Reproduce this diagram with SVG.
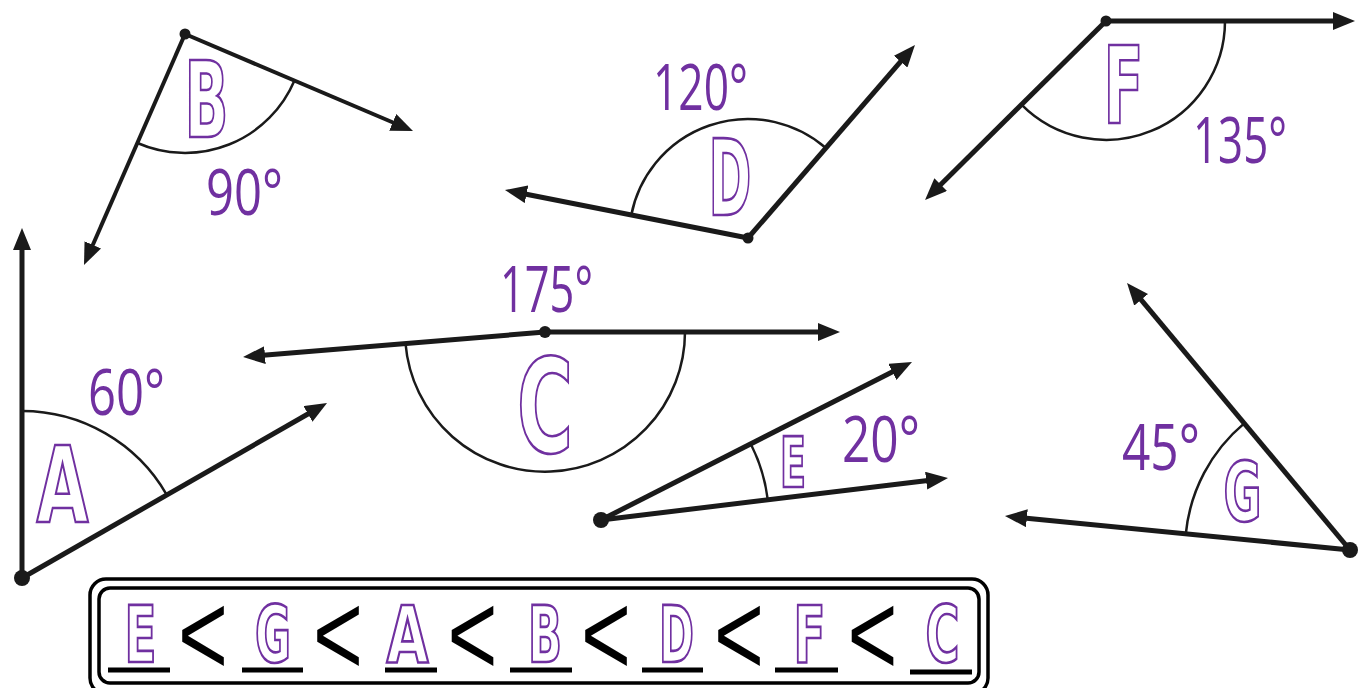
<svg xmlns="http://www.w3.org/2000/svg" width="1365" height="688" viewBox="0 0 1365 688">
<style>
.ray{stroke:#1a1a1a;stroke-width:5;fill:none;marker-end:url(#arr)}
.arc{stroke:#1a1a1a;stroke-width:2.5;fill:none}
.dot{fill:#1a1a1a}
.deg{font-family:"Open Sans","Liberation Sans",sans-serif;font-size:64px;fill:#7030a0;text-anchor:middle}
.let{font-family:"DejaVu Sans Condensed","DejaVu Sans",sans-serif;font-weight:bold;fill:#fff;stroke:#7030a0;stroke-width:2.7;text-anchor:middle}
.lt{font-family:"Liberation Sans",Arial,sans-serif;font-size:118px;fill:#000;text-anchor:middle}
.ul{stroke:#000;stroke-width:5}
</style>
<defs>
<marker id="arr" viewBox="0 0 22 18" refX="8" refY="9" markerWidth="22" markerHeight="18" markerUnits="userSpaceOnUse" orient="auto">
<path d="M0,0 L22,9 L0,18 z" fill="#1a1a1a"/>
</marker>
</defs>
<rect width="1365" height="688" fill="#fff"/>

<g id="angle-A">
<line class="ray" x1="22" y1="578" x2="22" y2="242"/>
<line class="ray" x1="22" y1="578" x2="314.9" y2="410"/>
<path class="arc" d="M22,411 A167,167 0 0 1 166.6,494.5"/>
<circle class="dot" cx="22" cy="578" r="8"/>
<text class="deg" x="126.5" y="415" textLength="77" lengthAdjust="spacingAndGlyphs">60°</text>
<text class="let" x="62.5" y="522" font-size="106" textLength="52" lengthAdjust="spacingAndGlyphs">A</text>
</g>

<g id="angle-B">
<line class="ray" style="stroke-width:4" x1="185" y1="34" x2="400.1" y2="125.5"/>
<line class="ray" style="stroke-width:4" x1="185" y1="34" x2="89.6" y2="252.2"/>
<path class="arc" d="M294.5,80.5 A119,119 0 0 1 137.4,143"/>
<circle class="dot" cx="185" cy="34" r="5.5"/>
<text class="deg" x="244.5" y="215" textLength="77" lengthAdjust="spacingAndGlyphs">90°</text>
<text class="let" x="206.5" y="137" font-size="106" textLength="44" lengthAdjust="spacingAndGlyphs">B</text>
</g>

<g id="angle-D">
<line class="ray" x1="748" y1="238" x2="518.7" y2="192.7"/>
<line class="ray" x1="748" y1="238" x2="905.8" y2="55.6"/>
<path class="arc" d="M631.3,214.9 A119,119 0 0 1 825.9,148"/>
<circle class="dot" cx="748" cy="238" r="5.5"/>
<text class="deg" x="700.5" y="110" textLength="95" lengthAdjust="spacingAndGlyphs">120°</text>
<text class="let" x="730" y="215" font-size="106" textLength="43" lengthAdjust="spacingAndGlyphs">D</text>
</g>

<g id="angle-F">
<line class="ray" x1="1106" y1="21" x2="1341" y2="21"/>
<line class="ray" x1="1106" y1="21" x2="935" y2="190.2"/>
<path class="arc" d="M1225,21 A119,119 0 0 1 1021.5,104.7"/>
<circle class="dot" cx="1106" cy="21" r="5.5"/>
<text class="deg" x="1240" y="163" textLength="94" lengthAdjust="spacingAndGlyphs">135°</text>
<text class="let" x="1123.5" y="123" font-size="107" textLength="40" lengthAdjust="spacingAndGlyphs">F</text>
</g>

<g id="angle-C">
<line class="ray" x1="545" y1="332" x2="826" y2="332"/>
<line class="ray" x1="545" y1="332" x2="257" y2="355.8"/>
<path class="arc" d="M685,332 A140,140 0 0 1 405.5,343.5"/>
<circle class="dot" cx="545" cy="332" r="6"/>
<text class="deg" x="546.5" y="312" textLength="93" lengthAdjust="spacingAndGlyphs">175°</text>
<text class="let" x="545" y="452" font-size="130" textLength="56" lengthAdjust="spacingAndGlyphs">C</text>
</g>

<g id="angle-E">
<line class="ray" x1="601" y1="520" x2="899.5" y2="368.3"/>
<line class="ray" x1="601" y1="520" x2="934.1" y2="479.7"/>
<path class="arc" d="M750.8,444 A168,168 0 0 1 767.8,499.8"/>
<circle class="dot" cx="601" cy="520" r="8"/>
<text class="deg" x="881" y="462" textLength="78" lengthAdjust="spacingAndGlyphs">20°</text>
<text class="let" x="793" y="487" font-size="69" textLength="26" lengthAdjust="spacingAndGlyphs">E</text>
</g>

<g id="angle-G">
<line class="ray" x1="1350" y1="550" x2="1136" y2="293.7"/>
<line class="ray" x1="1350" y1="550" x2="1018.9" y2="517.4"/>
<path class="arc" d="M1244.2,423.4 A165,165 0 0 0 1185.8,533.9"/>
<circle class="dot" cx="1350" cy="550" r="8"/>
<text class="deg" x="1161" y="470" textLength="78" lengthAdjust="spacingAndGlyphs">45°</text>
<text class="let" x="1242.5" y="521" font-size="82" textLength="38" lengthAdjust="spacingAndGlyphs">G</text>
</g>

<g id="order-box">
<rect x="90" y="579" width="898" height="115" rx="16" fill="none" stroke="#000" stroke-width="3.5"/>
<rect x="99" y="588" width="880" height="95" rx="11" fill="none" stroke="#000" stroke-width="3.5"/>
<g class="ul">
<line x1="108" y1="670" x2="170" y2="670"/>
<line x1="242" y1="670" x2="303" y2="670"/>
<line x1="385" y1="670" x2="437" y2="670"/>
<line x1="510" y1="670" x2="572" y2="670"/>
<line x1="642" y1="670" x2="703" y2="670"/>
<line x1="775" y1="670" x2="838" y2="670"/>
<line x1="910" y1="672" x2="972" y2="672"/>
</g>
<text class="let" x="140.5" y="662" font-size="78" textLength="32" lengthAdjust="spacingAndGlyphs">E</text>
<text class="let" x="273" y="662" font-size="78" textLength="36" lengthAdjust="spacingAndGlyphs">G</text>
<text class="let" x="407.5" y="662" font-size="78" textLength="42" lengthAdjust="spacingAndGlyphs">A</text>
<text class="let" x="545" y="662" font-size="78" textLength="34" lengthAdjust="spacingAndGlyphs">B</text>
<text class="let" x="676.5" y="662" font-size="78" textLength="35" lengthAdjust="spacingAndGlyphs">D</text>
<text class="let" x="809.5" y="662" font-size="78" textLength="32" lengthAdjust="spacingAndGlyphs">F</text>
<text class="let" x="942.5" y="662" font-size="78" textLength="34" lengthAdjust="spacingAndGlyphs">C</text>
<text class="lt" x="203" y="675" textLength="50" lengthAdjust="spacingAndGlyphs">&lt;</text>
<text class="lt" x="338" y="675" textLength="50" lengthAdjust="spacingAndGlyphs">&lt;</text>
<text class="lt" x="472.5" y="675" textLength="50" lengthAdjust="spacingAndGlyphs">&lt;</text>
<text class="lt" x="606" y="675" textLength="50" lengthAdjust="spacingAndGlyphs">&lt;</text>
<text class="lt" x="739" y="675" textLength="50" lengthAdjust="spacingAndGlyphs">&lt;</text>
<text class="lt" x="872.5" y="675" textLength="50" lengthAdjust="spacingAndGlyphs">&lt;</text>
</g>
</svg>
